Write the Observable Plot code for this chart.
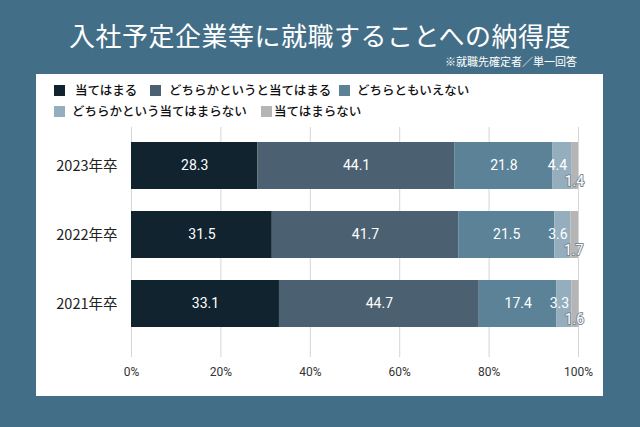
<!DOCTYPE html>
<html><head><meta charset="utf-8">
<script src="https://cdn.jsdelivr.net/npm/d3@7"></script>
<script src="https://cdn.jsdelivr.net/npm/@observablehq/plot@0.6"></script>
<style>
html,body{margin:0;padding:0;}
body{width:640px;height:427px;background:#436e87;position:relative;overflow:hidden;font-family:"Noto Sans CJK JP","Noto Sans",sans-serif;}
#title{position:absolute;left:0;width:640px;top:20px;text-align:center;color:#fff;font-size:26px;font-weight:400;line-height:30px;letter-spacing:0.5px;}
#sub{position:absolute;right:63px;top:55px;color:#fff;font-size:11px;line-height:13px;}
#panel{position:absolute;left:36px;top:74px;width:567px;height:322px;background:#fff;}
.sw{position:absolute;width:11px;height:11px;}
.lt{position:absolute;font-size:12.5px;line-height:14px;color:#111;font-weight:500;white-space:nowrap;}
#chart{position:absolute;left:0;top:0;width:640px;height:427px;}
#chart svg{display:block;}
</style></head>
<body>
<div id="title">入社予定企業等に就職することへの納得度</div>
<div id="sub">※就職先確定者／単一回答</div>
<div id="panel"></div>
<div id="legend"></div>
<div id="chart"></div>
<script>
const years = ["2023年卒", "2022年卒", "2021年卒"];
const categories = ["当てはまる", "どちらかというと当てはまる", "どちらともいえない", "どちらかという当てはまらない", "当てはまらない"];
const colors = ["#10232f", "#4b6171", "#5c8298", "#95aebd", "#b5b5b5"];
const v1 = [28.3, 31.5, 33.1];
const v2 = [44.1, 41.7, 44.7];
const v3 = [21.8, 21.5, 17.4];
const v4 = [4.4, 3.6, 3.3];
const v5 = [1.4, 1.7, 1.6];
const xTicks = [0, 20, 40, 60, 80, 100];

const series = [v1, v2, v3, v4, v5];
const data = [];
years.forEach((y, i) => categories.forEach((c, j) => data.push({year: y, cat: c, value: series[j][i], k: j})));

// legend
const legendPos = [
  {sx: 54, tx: 75, y: 90}, {sx: 150, tx: 169, y: 90}, {sx: 339, tx: 357, y: 90},
  {sx: 54, tx: 72, y: 111}, {sx: 261, tx: 274, y: 111}
];
const lg = document.getElementById("legend");
categories.forEach((c, j) => {
  const p = legendPos[j];
  const s = document.createElement("div");
  s.className = "sw"; s.style.left = p.sx + "px"; s.style.top = (p.y - 5.5) + "px"; s.style.background = colors[j];
  const t = document.createElement("div");
  t.className = "lt"; t.style.left = p.tx + "px"; t.style.top = (p.y - 7.5) + "px"; t.textContent = c;
  lg.appendChild(s); lg.appendChild(t);
});

// label positions (segment midpoints) for the two thin segments
const cum = years.map((y, i) => v1[i] + v2[i] + v3[i]);
const midL = years.map((y, i) => ({year: y, x: cum[i] + v4[i] / 2, t: v4[i].toFixed(1)}));
const smL = years.map((y, i) => ({year: y, x: cum[i] + v4[i] + v5[i] / 2, t: v5[i].toFixed(1)}));
const big = data.filter(d => d.k < 3);

const chart = Plot.plot({
  width: 640,
  height: 400,
  marginLeft: 131,
  marginRight: 62,
  marginTop: 127,
  marginBottom: 43,
  style: {background: "transparent", fontFamily: "Roboto, 'Noto Sans CJK JP', sans-serif", overflow: "visible"},
  x: {domain: [0, 100], label: null},
  y: {domain: years, paddingInner: 0.314, paddingOuter: 0.3, align: 0.333, label: null},
  color: {domain: categories, range: colors},
  marks: [
    Plot.gridX(xTicks, {stroke: "#d6d6d6", strokeOpacity: 1, strokeWidth: 1}),
    Plot.barX(data, Plot.stackX({x: "value", y: "year", fill: "cat", order: null})),
    Plot.text(big, Plot.stackX({x: "value", y: "year", z: "cat", order: null, text: d => d.value.toFixed(1), fill: "white", fontSize: 14})),
    Plot.text(midL, {x: "x", y: "year", text: "t", fill: "white", fontSize: 14, dx: -5}),
    Plot.text(smL, {x: "x", y: "year", text: "t", fill: "white", stroke: "#7d8a93", strokeWidth: 2, fontSize: 14, dx: -1, dy: 16}),
    Plot.axisX(xTicks, {tickFormat: d => d + "%", tickSize: 0, tickPadding: 10, fontSize: 12, color: "#333", label: null}),
    Plot.axisY({tickSize: 0, tickPadding: 14, fontSize: 14.5, color: "#222", fontFamily: "'Noto Sans CJK JP', sans-serif", label: null})
  ]
});
document.getElementById("chart").appendChild(chart);
</script>
</body></html>
